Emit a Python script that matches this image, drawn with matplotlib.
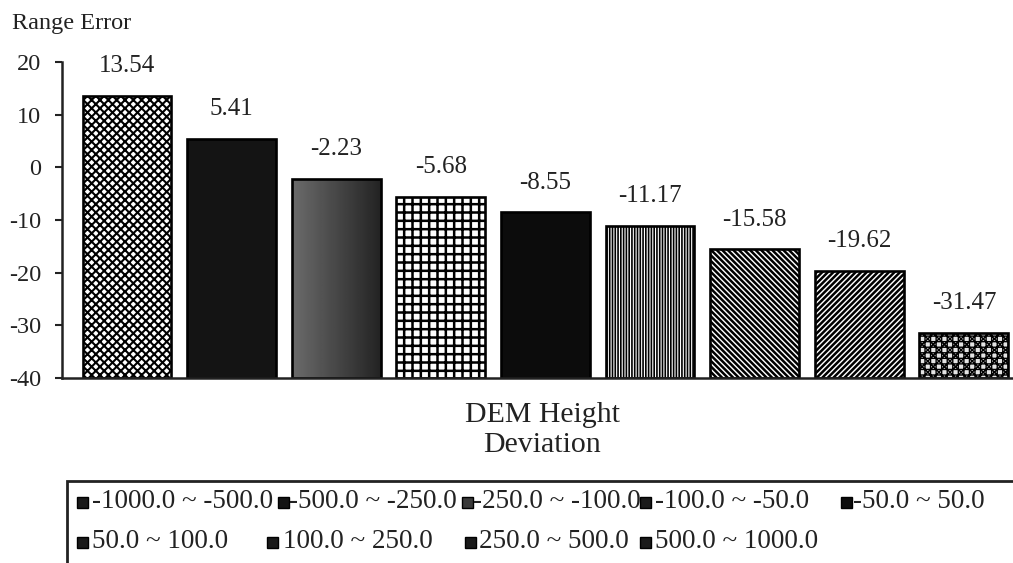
import numpy as np
import matplotlib
matplotlib.use("Agg")
import matplotlib.pyplot as plt
from matplotlib.patches import Rectangle

# ---- data -------------------------------------------------------------
height_classes = ['-1000.0 ~ -500.0', '-500.0 ~ -250.0', '-250.0 ~ -100.0',
                  '-100.0 ~ -50.0', '-50.0 ~ 50.0', '50.0 ~ 100.0',
                  '100.0 ~ 250.0', '250.0 ~ 500.0', '500.0 ~ 1000.0']
range_error = [13.54, 5.41, -2.23, -5.68, -8.55, -11.17, -15.58, -19.62, -31.47]
y_ticks = [20, 10, 0, -10, -20, -30, -40]
y_floor = -40
y_top = 20

# ---- styles per class ---------------------------------------------------
face_colors = ['white', '#141414', '#3a3a3a', 'white', '#0c0c0c',
               'white', 'white', 'white', '#e4e4e4']
hatches = ['xxxx', None, None, '++', None, '||||||', '\\\\\\\\\\\\',
           '//////', '+++xxx']
hatch_widths = [1.5, 1.0, 1.0, 1.8, 1.0, 1.2, 1.8, 1.8, 1.0]

W, H = 1013, 563
plt.rcParams['font.family'] = ['Liberation Serif', 'DejaVu Serif']
plt.rcParams['hatch.color'] = 'black'

fig = plt.figure(figsize=(W / 100, H / 100), dpi=100)
fig.patch.set_facecolor('white')

def fx(px):
    return px / W

def fy(py):
    return 1 - py / H

ax = fig.add_axes([fx(62), fy(378), fx(1012) - fx(62), fy(62) - fy(378)])

x = np.arange(len(range_error))
heights = [v - y_floor for v in range_error]
bars = []
for xi, hgt, fc, h, hw in zip(x, heights, face_colors, hatches, hatch_widths):
    with plt.rc_context({'hatch.linewidth': hw}):
        b = ax.bar(xi, hgt, bottom=y_floor, width=0.85, color=fc,
                   edgecolor='black', linewidth=1.9, hatch=h)[0]
        if hasattr(b, 'set_hatch_linewidth'):
            b.set_hatch_linewidth(hw)
    bars.append(b)

# shaded fill for the -250 ~ -100 class (lighter on the left)
b3 = bars[2]
grad = np.linspace(0.42, 0.14, 80).reshape(1, -1)
img = ax.imshow(grad, cmap='gray', vmin=0, vmax=1, aspect='auto',
                extent=(b3.get_x(), b3.get_x() + b3.get_width(),
                        b3.get_y(), b3.get_y() + b3.get_height()),
                zorder=b3.get_zorder() - 0.1, interpolation='bilinear')
img.set_clip_path(b3)
b3.set_facecolor('none')

# value labels above bars
for xi, v in zip(x, range_error):
    ax.annotate(f"{v:.2f}", (xi, v), xytext=(0, 21.5),
                textcoords='offset points', ha='center', va='center',
                fontsize=18, color='#222222')

ax.set_xlim(-0.621, 8.46)
ax.set_ylim(y_floor, y_top)
ax.set_yticks(y_ticks)
ax.set_yticklabels([str(t) for t in y_ticks], fontsize=17.5, color='#222222')
ax.tick_params(axis='y', direction='out', length=5, width=1.5, pad=10,
               colors='#222222')
ax.tick_params(axis='x', bottom=False, labelbottom=False)
for side in ('top', 'right'):
    ax.spines[side].set_visible(False)
ax.spines['left'].set_linewidth(1.8)
ax.spines['bottom'].set_linewidth(1.8)
ax.spines['left'].set_color('#222222')
ax.spines['bottom'].set_color('#222222')
ax.set_facecolor('none')

# axis titles
fig.text(fx(12), fy(23), 'Range Error', fontsize=17.5, ha='left',
         va='center', color='#222222')
fig.text(fx(542), fy(430), 'DEM Height\nDeviation', fontsize=21.5,
         ha='center', va='center', linespacing=1.2, color='#222222')

# legend frame (runs off the right and bottom edges)
fig.add_artist(Rectangle((fx(67), -0.2), 1.2, fy(481) + 0.2,
                         transform=fig.transFigure, fill=False,
                         edgecolor='#222222', linewidth=2))

# legend entries: (key left px, text left px, row centre px)
legend_slots = [(77, 92, 502), (278, 289, 502), (462, 473, 502),
                (640, 655, 502), (841, 853, 502),
                (77, 92, 542), (267, 283, 542), (465, 479, 542),
                (640, 655, 542)]
for (kx, tx, ry), lab, fc in zip(legend_slots, height_classes, face_colors):
    key = Rectangle((fx(kx), fy(ry + 5.5)), fx(11), 11 / H,
                    transform=fig.transFigure,
                    facecolor='#1a1a1a' if fc in ('white', '#e4e4e4') else fc,
                    edgecolor='black', linewidth=1)
    fig.add_artist(key)
    fig.text(fx(tx), fy(ry), lab, fontsize=19.5, ha='left', va='center',
             color='#222222')

fig.savefig('out.png', dpi=100, facecolor='white')
